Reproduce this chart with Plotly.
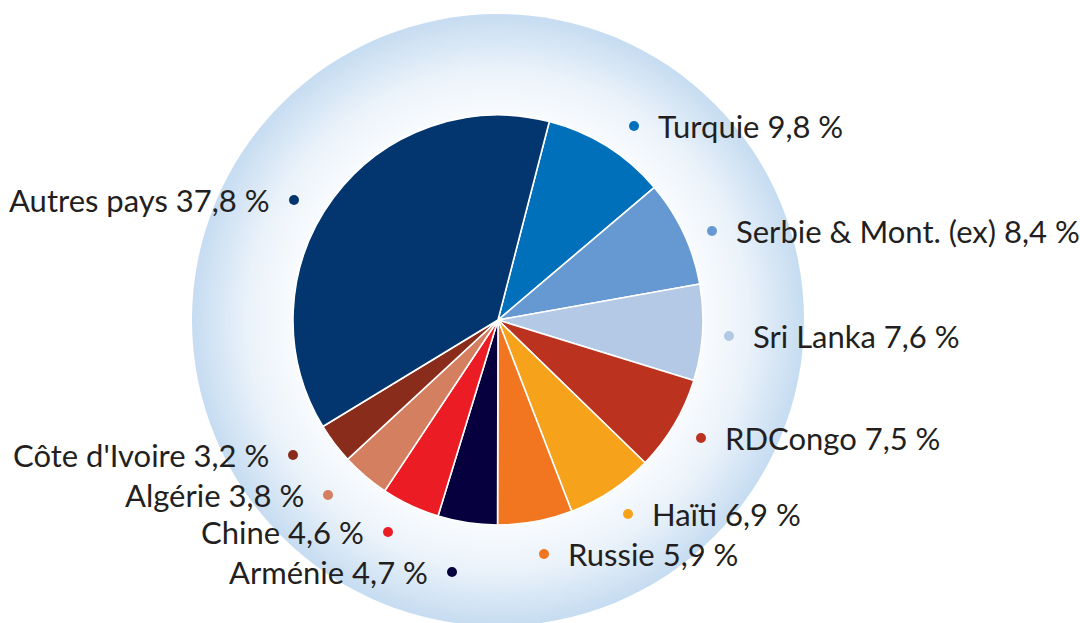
import base64
import plotly.graph_objects as go

# Répartition par pays (ordre horaire à partir de la Turquie)
pays = ["Turquie", "Serbie &amp; Mont. (ex)", "Sri Lanka", "RDCongo", "Haïti",
        "Russie", "Arménie", "Chine", "Algérie", "Côte d'Ivoire", "Autres pays"]
parts = [9.8, 8.4, 7.6, 7.5, 6.9, 5.9, 4.7, 4.6, 3.8, 3.2, 37.8]
couleurs = ["#0070ba", "#6699d1", "#b3c9e6", "#bb321f", "#f7a21b",
            "#f27620", "#07003f", "#ec1c24", "#d48060", "#8a2c1c", "#03366f"]

W, H = 1080, 623
CX, CY, R = 498, 320, 205      # centre et rayon du camembert (px)
HALO = 306                      # rayon du halo dégradé (px)

# Position des pastilles de légende (px) et côté du texte
pastilles = [(634, 126, "r"), (712, 231, "r"), (729, 336, "r"), (701, 438, "r"),
             (628, 514, "r"), (544, 554, "r"), (452, 572, "l"), (388, 532, "l"),
             (328, 495, "l"), (293, 455, "l"), (294, 200, "l")]


def fmt(v):
    return f"{v:.1f}".replace(".", ",") + " %"


fig = go.Figure()

fig.add_trace(go.Pie(
    values=parts,
    labels=pays,
    sort=False,
    direction="clockwise",
    rotation=14.5,
    marker=dict(colors=couleurs, line=dict(color="white", width=1.6)),
    textinfo="none",
    hoverinfo="label+percent",
    showlegend=False,
    domain=dict(x=[(CX - R) / W, (CX + R) / W],
                y=[(H - CY - R) / H, (H - CY + R) / H]),
))

fig.add_trace(go.Scatter(
    x=[p[0] for p in pastilles],
    y=[p[1] for p in pastilles],
    mode="markers",
    marker=dict(color=couleurs, size=10, line=dict(width=0)),
    hoverinfo="skip",
    showlegend=False,
))

annotations = []
for nom, v, (px, py, cote) in zip(pays, parts, pastilles):
    txt = f"{nom} {fmt(v)}"
    if cote == "r":
        annotations.append(dict(x=px + 22, y=py, text=txt, xanchor="left",
                                yanchor="middle", showarrow=False))
    else:
        annotations.append(dict(x=px - 22, y=py, text=txt, xanchor="right",
                                yanchor="middle", showarrow=False))
for a in annotations:
    a.update(xref="x", yref="y",
             font=dict(family="Lato", size=31, color="#231f20"))

# Halo circulaire en dégradé radial derrière le camembert
svg = (
    "<svg xmlns='http://www.w3.org/2000/svg' width='612' height='612' viewBox='0 0 612 612'>"
    "<defs><radialGradient id='g' cx='50%' cy='50%' r='50%'>"
    "<stop offset='0' stop-color='#ffffff'/>"
    "<stop offset='0.64' stop-color='#fcfdff'/>"
    "<stop offset='0.82' stop-color='#eaf2fa'/>"
    "<stop offset='1' stop-color='#c6dcf1'/>"
    "</radialGradient></defs>"
    "<circle cx='306' cy='306' r='306' fill='url(#g)'/></svg>"
)
src = "data:image/svg+xml;base64," + base64.b64encode(svg.encode()).decode()

fig.update_layout(
    width=W, height=H,
    margin=dict(l=0, r=0, t=0, b=0),
    paper_bgcolor="white",
    plot_bgcolor="rgba(0,0,0,0)",
    xaxis=dict(range=[0, W], visible=False, domain=[0, 1], fixedrange=True),
    yaxis=dict(range=[H, 0], visible=False, domain=[0, 1], fixedrange=True),
    annotations=annotations,
    images=[dict(source=src, xref="x", yref="y", x=CX, y=CY,
                 sizex=2 * HALO, sizey=2 * HALO, xanchor="center",
                 yanchor="middle", sizing="stretch", layer="below")],
)

fig.write_html("out.html")
